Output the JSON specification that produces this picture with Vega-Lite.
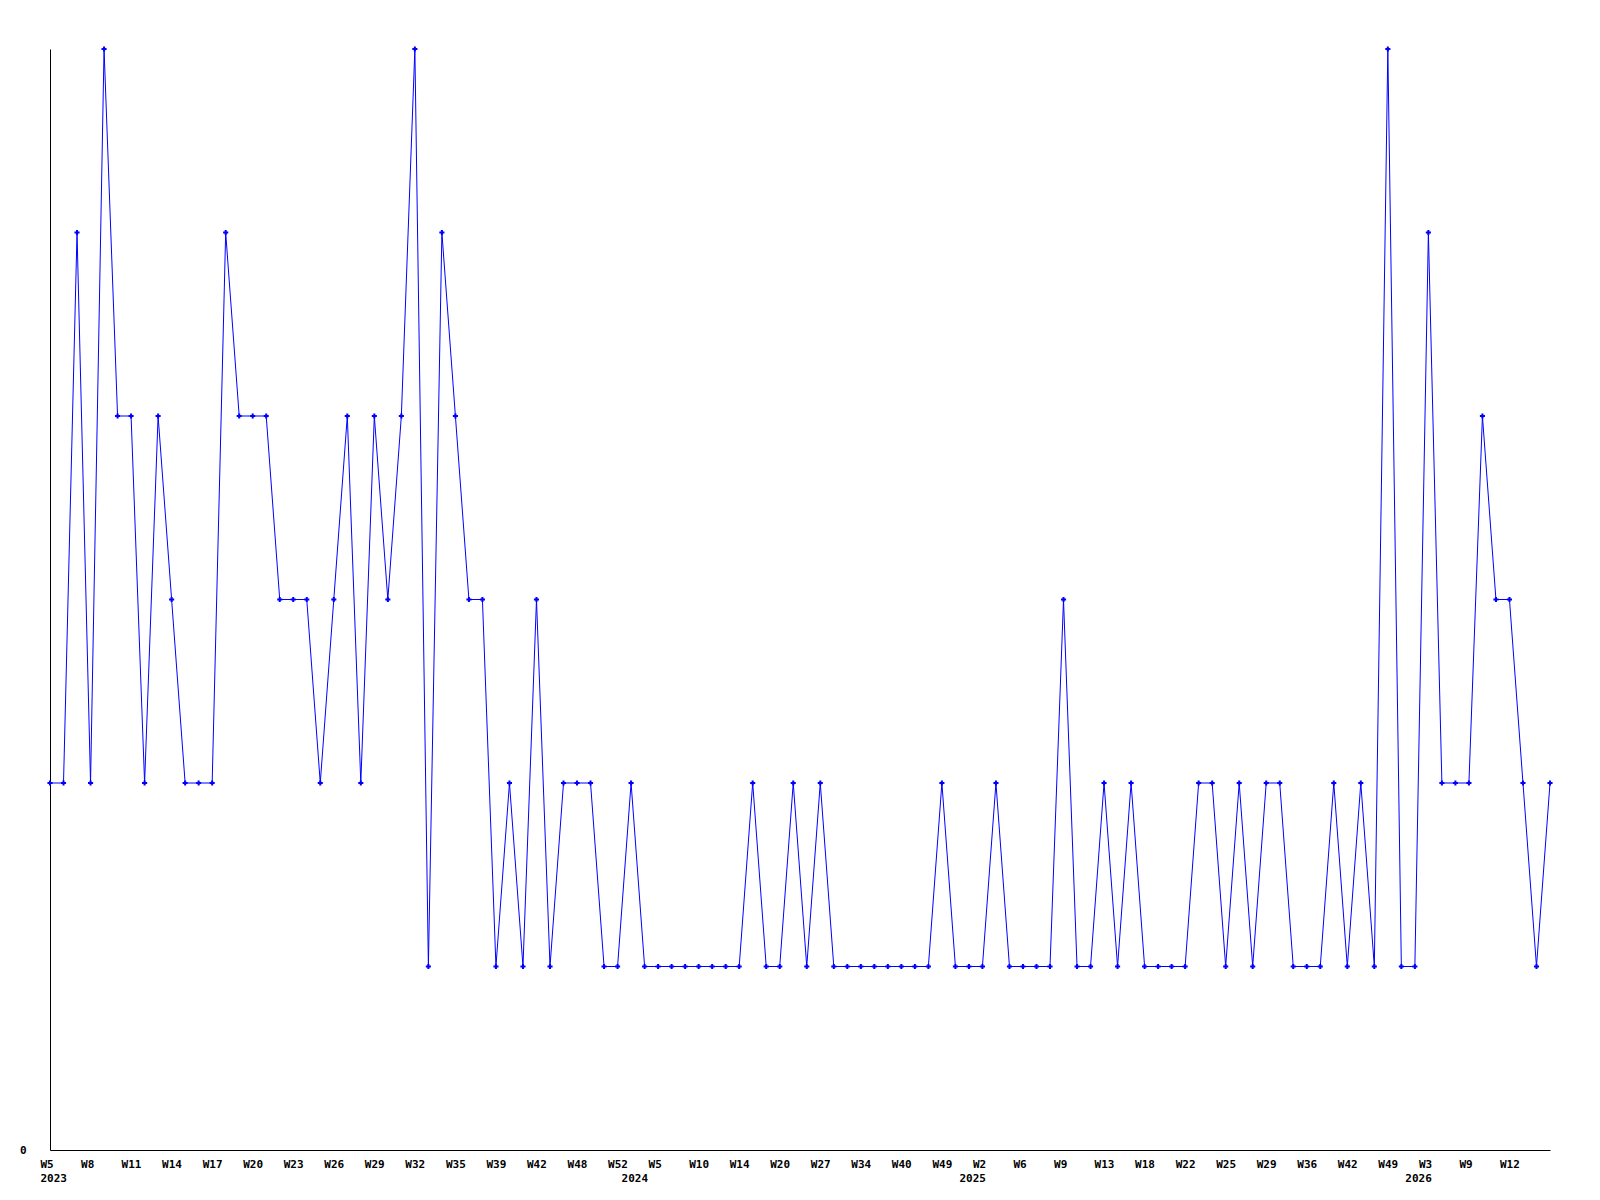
{
  "$schema": "https://vega.github.io/schema/vega-lite/v6.json",
  "autosize": "none",
  "width": 1500,
  "height": 1101,
  "padding": {"left": 50, "top": 49, "right": 50, "bottom": 50},
  "background": "white",
  "config": {"view": {"stroke": null}},
  "data": {"values": [
    {"wk": "2023-W5", "v": 2}, {"wk": "2023-W6", "v": 2}, {"wk": "2023-W7", "v": 5}, {"wk": "2023-W8", "v": 2},
    {"wk": "2023-W9", "v": 6}, {"wk": "2023-W10", "v": 4}, {"wk": "2023-W11", "v": 4}, {"wk": "2023-W12", "v": 2},
    {"wk": "2023-W13", "v": 4}, {"wk": "2023-W14", "v": 3}, {"wk": "2023-W15", "v": 2}, {"wk": "2023-W16", "v": 2},
    {"wk": "2023-W17", "v": 2}, {"wk": "2023-W18", "v": 5}, {"wk": "2023-W19", "v": 4}, {"wk": "2023-W20", "v": 4},
    {"wk": "2023-W21", "v": 4}, {"wk": "2023-W22", "v": 3}, {"wk": "2023-W23", "v": 3}, {"wk": "2023-W24", "v": 3},
    {"wk": "2023-W25", "v": 2}, {"wk": "2023-W26", "v": 3}, {"wk": "2023-W27", "v": 4}, {"wk": "2023-W28", "v": 2},
    {"wk": "2023-W29", "v": 4}, {"wk": "2023-W30", "v": 3}, {"wk": "2023-W31", "v": 4}, {"wk": "2023-W32", "v": 6},
    {"wk": "2023-W33", "v": 1}, {"wk": "2023-W34", "v": 5}, {"wk": "2023-W35", "v": 4}, {"wk": "2023-W36", "v": 3},
    {"wk": "2023-W38", "v": 3}, {"wk": "2023-W39", "v": 1}, {"wk": "2023-W40", "v": 2}, {"wk": "2023-W41", "v": 1},
    {"wk": "2023-W42", "v": 3}, {"wk": "2023-W44", "v": 1}, {"wk": "2023-W46", "v": 2}, {"wk": "2023-W48", "v": 2},
    {"wk": "2023-W49", "v": 2}, {"wk": "2023-W50", "v": 1}, {"wk": "2023-W52", "v": 1}, {"wk": "2024-W1", "v": 2},
    {"wk": "2024-W3", "v": 1}, {"wk": "2024-W5", "v": 1}, {"wk": "2024-W6", "v": 1}, {"wk": "2024-W8", "v": 1},
    {"wk": "2024-W10", "v": 1}, {"wk": "2024-W11", "v": 1}, {"wk": "2024-W12", "v": 1}, {"wk": "2024-W14", "v": 1},
    {"wk": "2024-W16", "v": 2}, {"wk": "2024-W18", "v": 1}, {"wk": "2024-W20", "v": 1}, {"wk": "2024-W22", "v": 2},
    {"wk": "2024-W25", "v": 1}, {"wk": "2024-W27", "v": 2}, {"wk": "2024-W29", "v": 1}, {"wk": "2024-W31", "v": 1},
    {"wk": "2024-W34", "v": 1}, {"wk": "2024-W36", "v": 1}, {"wk": "2024-W38", "v": 1}, {"wk": "2024-W40", "v": 1},
    {"wk": "2024-W43", "v": 1}, {"wk": "2024-W46", "v": 1}, {"wk": "2024-W49", "v": 2}, {"wk": "2024-W51", "v": 1},
    {"wk": "2025-W1", "v": 1}, {"wk": "2025-W2", "v": 1}, {"wk": "2025-W4", "v": 2}, {"wk": "2025-W5", "v": 1},
    {"wk": "2025-W6", "v": 1}, {"wk": "2025-W7", "v": 1}, {"wk": "2025-W8", "v": 1}, {"wk": "2025-W9", "v": 3},
    {"wk": "2025-W10", "v": 1}, {"wk": "2025-W12", "v": 1}, {"wk": "2025-W13", "v": 2}, {"wk": "2025-W15", "v": 1},
    {"wk": "2025-W16", "v": 2}, {"wk": "2025-W18", "v": 1}, {"wk": "2025-W19", "v": 1}, {"wk": "2025-W21", "v": 1},
    {"wk": "2025-W22", "v": 1}, {"wk": "2025-W23", "v": 2}, {"wk": "2025-W24", "v": 2}, {"wk": "2025-W25", "v": 1},
    {"wk": "2025-W26", "v": 2}, {"wk": "2025-W28", "v": 1}, {"wk": "2025-W29", "v": 2}, {"wk": "2025-W31", "v": 2},
    {"wk": "2025-W34", "v": 1}, {"wk": "2025-W36", "v": 1}, {"wk": "2025-W38", "v": 1}, {"wk": "2025-W40", "v": 2},
    {"wk": "2025-W42", "v": 1}, {"wk": "2025-W44", "v": 2}, {"wk": "2025-W46", "v": 1}, {"wk": "2025-W49", "v": 6},
    {"wk": "2025-W51", "v": 1}, {"wk": "2026-W1", "v": 1}, {"wk": "2026-W3", "v": 5}, {"wk": "2026-W5", "v": 2},
    {"wk": "2026-W7", "v": 2}, {"wk": "2026-W9", "v": 2}, {"wk": "2026-W10", "v": 4}, {"wk": "2026-W11", "v": 3},
    {"wk": "2026-W12", "v": 3}, {"wk": "2026-W13", "v": 2}, {"wk": "2026-W14", "v": 1}, {"wk": "2026-W15", "v": 2}
  ]},
  "encoding": {
    "x": {
      "field": "wk", "type": "ordinal", "sort": null,
      "scale": {"type": "point", "padding": 0},
      "axis": {
        "title": null,
        "values": ["2023-W5","2023-W8","2023-W11","2023-W14","2023-W17","2023-W20","2023-W23","2023-W26","2023-W29","2023-W32","2023-W35","2023-W39","2023-W42","2023-W48","2023-W52","2024-W1","2024-W5","2024-W10","2024-W14","2024-W20","2024-W27","2024-W34","2024-W40","2024-W49","2025-W1","2025-W2","2025-W6","2025-W9","2025-W13","2025-W18","2025-W22","2025-W25","2025-W29","2025-W36","2025-W42","2025-W49","2026-W1","2026-W3","2026-W9","2026-W12"],
        "labelExpr": "indexof(['2024-W1','2025-W1','2026-W1'], datum.value) >= 0 ? ['', split(datum.value,'-')[0]] : (datum.value == '2023-W5' ? ['W5','2023'] : split(datum.value,'-')[1])",
        "labelAlign": "left",
        "labelBaseline": "top",
        "labelOffset": -10,
        "labelPadding": 8,
        "labelLineHeight": 14,
        "labelOverlap": false,
        "labelAngle": 0,
        "labelFont": "DejaVu Sans Mono",
        "labelFontWeight": "bold",
        "labelFontSize": 11,
        "labelColor": "black",
        "ticks": false,
        "grid": false,
        "domainColor": "black",
        "domainWidth": 1
      }
    },
    "y": {
      "field": "v", "type": "quantitative",
      "scale": {"domain": [0, 6], "nice": false, "zero": true},
      "axis": {
        "title": null,
        "values": [0],
        "ticks": false,
        "grid": false,
        "labelPadding": 24,
        "labelFont": "DejaVu Sans Mono",
        "labelFontWeight": "bold",
        "labelFontSize": 11,
        "labelColor": "black",
        "domainColor": "black",
        "domainWidth": 1
      }
    }
  },
  "layer": [
    {"mark": {"type": "line", "color": "#0000ff", "strokeWidth": 1}},
    {"mark": {"type": "point", "shape": "cross", "filled": true, "size": 26, "color": "#0000ff", "opacity": 1}}
  ]
}
